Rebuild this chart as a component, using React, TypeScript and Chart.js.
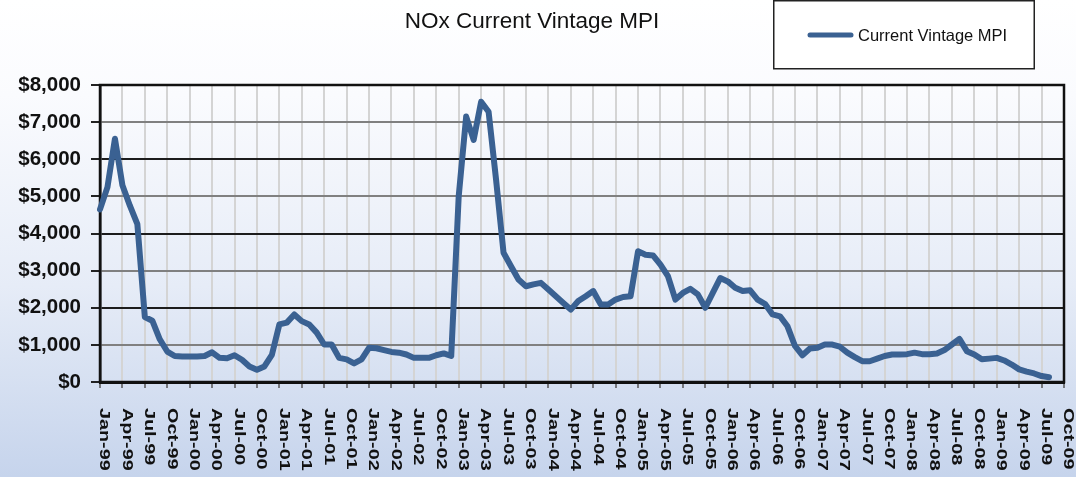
import { useEffect, useRef } from "react";
import { Chart, registerables } from "chart.js";

Chart.register(...registerables);

// ---- categories / tick labels ----
const MONTHS = ["Jan", "Feb", "Mar", "Apr", "May", "Jun", "Jul", "Aug", "Sep", "Oct", "Nov", "Dec"];
const YEARS = ["99", "00", "01", "02", "03", "04", "05", "06", "07", "08", "09"];
const allMonths: string[] = [];
for (const y of YEARS) for (const m of MONTHS) allMonths.push(`${m}-${y}`);
const categories = allMonths.slice(0, allMonths.indexOf("Oct-09") + 1); // Jan-99 .. Oct-09

// ---- series values (monthly, $) ----
const v1999 = [4650, 5250, 6550, 5300, 4750, 4250, 1750, 1650, 1150, 820, 700, 690];
const v2000 = [690, 690, 700, 800, 650, 640, 720, 600, 420, 330, 420, 730];
const v2001 = [1550, 1600, 1820, 1640, 1550, 1330, 1010, 1010, 650, 610, 500, 610];
const v2002 = [920, 910, 860, 810, 790, 740, 650, 650, 650, 720, 770, 700];
const v2003 = [5000, 7150, 6520, 7550, 7280, 5450, 3480, 3120, 2760, 2580, 2630, 2670];
const v2004 = [2490, 2310, 2130, 1950, 2180, 2310, 2450, 2090, 2090, 2220, 2290, 2310];
const v2005 = [3520, 3430, 3410, 3160, 2850, 2220, 2400, 2510, 2360, 2000, 2400, 2800];
const v2006 = [2710, 2540, 2450, 2470, 2220, 2100, 1820, 1770, 1500, 970, 720, 900];
const v2007 = [920, 1010, 1010, 950, 790, 670, 560, 560, 630, 700, 740, 740];
const v2008 = [750, 790, 750, 750, 770, 860, 1010, 1160, 830, 740, 610, 630];
const v2009 = [650, 580, 470, 340, 280, 230, 160, 130];
const mpiValues = [...v1999, ...v2000, ...v2001, ...v2002, ...v2003, ...v2004, ...v2005, ...v2006, ...v2007, ...v2008, ...v2009];

const TITLE = "NOx Current Vintage MPI";
const SERIES_NAME = "Current Vintage MPI";
const LINE_COLOR = "#3a6192";
const FONT = "'Liberation Sans', Arial, sans-serif";

const decorPlugin = {
  id: "decor",
  beforeDatasetsDraw(chart: any) {
    const { ctx, chartArea: a } = chart;
    ctx.save();
    ctx.strokeStyle = "#111";
    ctx.lineWidth = 2.5;
    ctx.strokeRect(a.left, a.top, a.right - a.left, a.bottom - a.top);
    ctx.restore();
  },
  afterDraw(chart: any) {
    const { ctx } = chart;
    const xs = chart.scales.x;
    // rotated x labels (reading top to bottom)
    ctx.save();
    ctx.fillStyle = "#111";
    ctx.font = `bold 15px ${FONT}`;
    ctx.textAlign = "left";
    ctx.textBaseline = "middle";
    categories.forEach((lab, i) => {
      if (i % 3 !== 0) return;
      const x = xs.getPixelForValue(i);
      ctx.save();
      ctx.translate(x + 4.5, xs.top + 26);
      ctx.rotate(Math.PI / 2);
      ctx.scale(1.32, 1);
      ctx.fillText(lab, 0, 0);
      ctx.restore();
    });
    ctx.restore();

    // legend box
    ctx.save();
    ctx.fillStyle = "#ffffff";
    ctx.fillRect(774, 0, 260, 68);
    ctx.strokeStyle = "#222";
    ctx.lineWidth = 1.5;
    ctx.strokeRect(773.75, 0.75, 260.5, 68);
    ctx.strokeStyle = LINE_COLOR;
    ctx.lineWidth = 5;
    ctx.lineCap = "round";
    ctx.beginPath();
    ctx.moveTo(810, 35);
    ctx.lineTo(851, 35);
    ctx.stroke();
    ctx.fillStyle = "#111";
    ctx.font = `16.5px ${FONT}`;
    ctx.textAlign = "left";
    ctx.textBaseline = "middle";
    ctx.fillText(SERIES_NAME, 858, 36);
    ctx.restore();
  },
};

export default function App() {
  const canvasRef = useRef<HTMLCanvasElement | null>(null);

  useEffect(() => {
    document.body.style.margin = "0";
    const canvas = canvasRef.current;
    if (!canvas) return;
    const chart = new Chart(canvas, {
      type: "line",
      data: {
        labels: categories,
        datasets: [
          {
            label: SERIES_NAME,
            data: mpiValues,
            borderColor: LINE_COLOR,
            backgroundColor: LINE_COLOR,
            borderWidth: 6,
            pointRadius: 0,
            tension: 0,
            fill: false,
            borderJoinStyle: "round",
            borderCapStyle: "round",
          },
        ],
      },
      options: {
        animation: false,
        responsive: false,
        maintainAspectRatio: false,
        layout: { padding: { left: 0, right: 12, top: 0, bottom: 0 } },
        plugins: {
          legend: { display: false },
          tooltip: { enabled: false },
          title: {
            display: true,
            text: TITLE,
            color: "#111",
            font: { family: FONT, size: 22.5, weight: "normal", lineHeight: 1.2 },
            padding: { top: 8, bottom: 50 },
          },
        },
        scales: {
          x: {
            type: "category",
            offset: false,
            ticks: { display: false, autoSkip: false },
            grid: {
              color: (c: any) => (c.index % 3 === 0 ? "#d4d4d4" : "rgba(0,0,0,0)"),
              lineWidth: 2,
              tickLength: 6,
              tickColor: (c: any) => (c.index % 3 === 0 ? "#555" : "rgba(0,0,0,0)"),
              tickWidth: 1.5,
            },
            border: { display: true, color: "#111", width: 3 },
            afterFit: (s: any) => {
              s.height = 95;
            },
          },
          y: {
            min: 0,
            max: 8000,
            ticks: {
              stepSize: 1000,
              color: "#111",
              padding: 10,
              font: { family: FONT, size: 20.5, weight: "bold" },
              callback: (v: any) => "$" + Number(v).toLocaleString("en-US"),
            },
            grid: {
              color: (c: any) => (c.tick && (c.tick.value / 1000) % 2 === 0 ? "#1c1c1c" : "#808080"),
              lineWidth: 2,
              tickLength: 9,
              tickColor: "#222",
              tickWidth: 2,
            },
            border: { display: true, color: "#111", width: 2.5 },
            afterFit: (s: any) => {
              s.width = 100;
            },
          },
        },
      },
      plugins: [decorPlugin],
    });
    return () => chart.destroy();
  }, []);

  return (
    <div
      style={{
        position: "fixed",
        left: 0,
        top: 0,
        width: 1076,
        height: 477,
        background: "linear-gradient(to bottom, #ffffff 0%, #fafbfe 20%, #e6ecf7 60%, #c6d4ec 100%)",
      }}
    >
      <canvas ref={canvasRef} width={1076} height={477} style={{ display: "block" }} />
    </div>
  );
}
